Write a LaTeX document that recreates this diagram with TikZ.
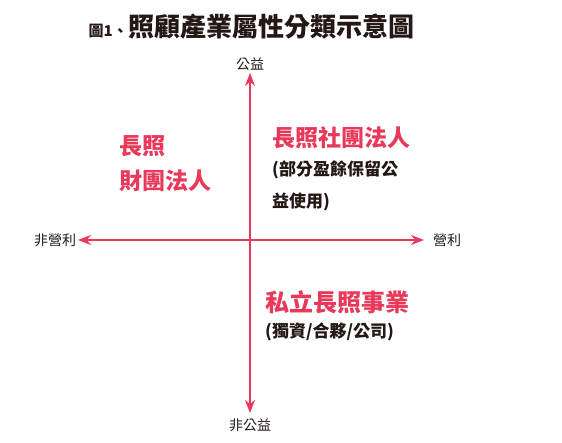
\documentclass[tikz,border=0pt]{standalone}
\usepackage{fontspec}
\usepackage{tikz}
\usetikzlibrary{arrows.meta,positioning}
\newfontfamily\cjk{Noto Sans CJK TC}
\definecolor{axis}{HTML}{E8395A}
\definecolor{ink}{HTML}{231815}

\begin{document}
\begin{tikzpicture}[x=1pt,y=-1pt,
    every node/.style={font=\cjk,inner sep=0pt},
    ax/.style={axis,line width=1.8pt,
      {Stealth[length=13pt,width=10pt]}-{Stealth[length=13pt,width=10pt]}},
    lbl/.style={font=\cjk\fontsize{14}{14}\selectfont,text=ink},
    head/.style={font=\cjk\bfseries\fontsize{23}{35}\selectfont,text=axis,align=left,anchor=west},
    note/.style={font=\cjk\bfseries\fontsize{17}{32}\selectfont,text=ink,align=left,anchor=west}]

  \useasboundingbox (0,0) rectangle (562,443);

  % title
  \node[font=\cjk\bfseries\fontsize{26}{26}\selectfont,text=ink,anchor=base west]
    (title) at (128,37) {照顧產業屬性分類示意圖};
  \node[font=\cjk\bfseries\fontsize{15}{15}\selectfont,text=ink,base left=0pt of title]
    (fig) {圖1、};

  % axes
  \path
  (250,73) coordinate(top)
  (250,413) coordinate(bottom)
  (78,240) coordinate(left)
  (424,240) coordinate(right)
  (250,64) node[lbl](pub) {公益}
  (250,425) node[lbl](nonpub) {非公益}
  (55,240) node[lbl](nonprofit) {非營利}
  (447,240) node[lbl](profit) {營利}
  ;

  \draw[ax] (top) -- (bottom);
  \draw[ax] (left) -- (right);

  % quadrants
  \path
  (119,164) node[head](found) {長照\\財團法人}
  (272,138) node[head](assoc) {長照社團法人}
  (272,186) node[note](assocnote) {(部分盈餘保留公\\益使用)}
  (265,302) node[head,font=\cjk\bfseries\fontsize{24}{24}\selectfont](private) {私立長照事業}
  (265,332) node[note](privnote) {(獨資/合夥/公司)}
  ;
\end{tikzpicture}
\end{document}
